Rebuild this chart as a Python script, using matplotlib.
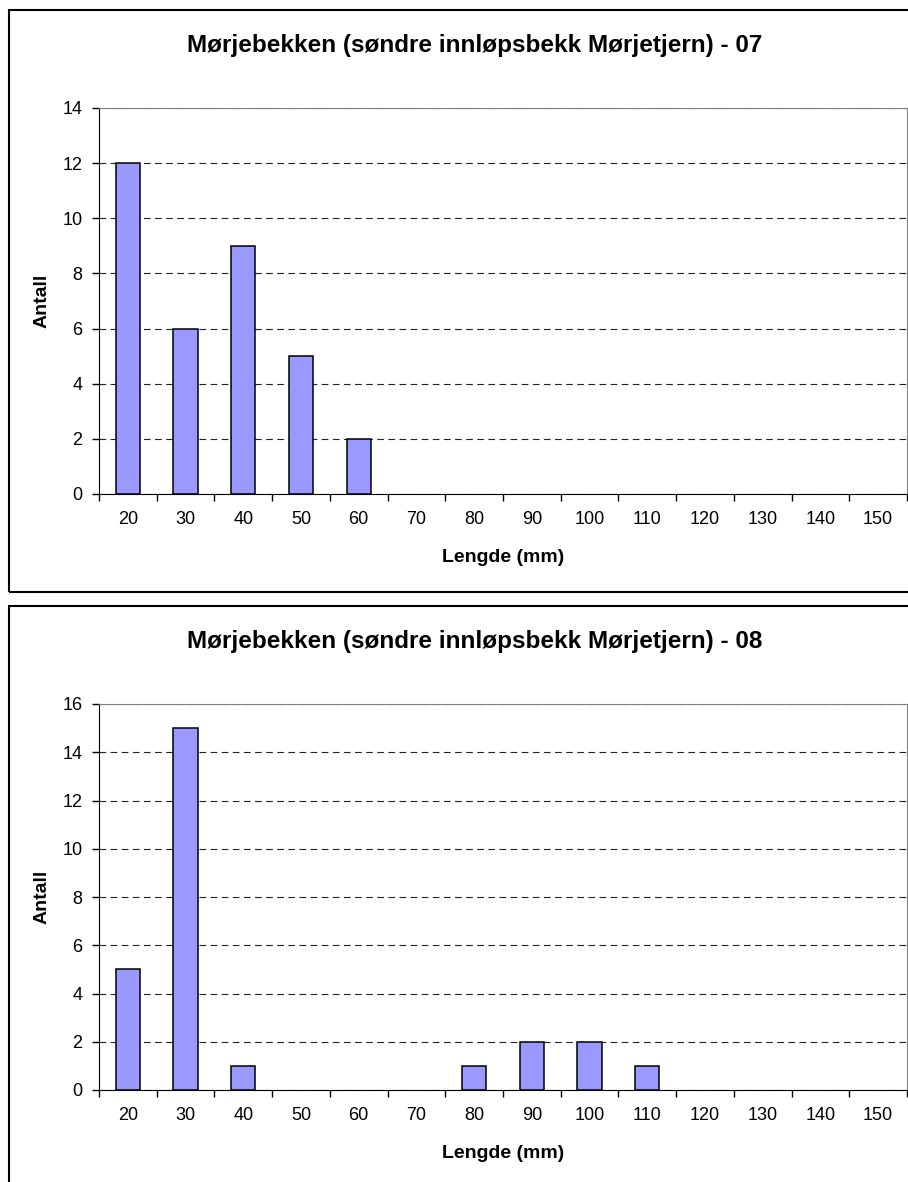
import matplotlib.pyplot as plt
from matplotlib.patches import Rectangle
import numpy as np

plt.rcParams['font.family'] = ['Liberation Sans', 'DejaVu Sans']

# Length classes (mm) and counts for each year
lengths = [20, 30, 40, 50, 60, 70, 80, 90, 100, 110, 120, 130, 140, 150]
counts_07 = [12, 6, 9, 5, 2, 0, 0, 0, 0, 0, 0, 0, 0, 0]
counts_08 = [5, 15, 1, 0, 0, 0, 1, 2, 2, 1, 0, 0, 0, 0]
titles = ['Mørjebekken (søndre innløpsbekk Mørjetjern) - 07',
          'Mørjebekken (søndre innløpsbekk Mørjetjern) - 08']
y_maxes = [14, 16]

W, H = 908, 1182
fig = plt.figure(figsize=(W / 100, H / 100), dpi=100)


def fx(px):
    return px / W


def fy(py):
    return 1 - py / H


def draw_panel(offset, counts, title, ymax):
    # outer chart frame (runs off the right side of the picture)
    fig.add_artist(Rectangle((fx(9), fy(offset + 582)), fx(960), 582 / H,
                             transform=fig.transFigure, fill=False,
                             edgecolor='black', lw=1.5, clip_on=False))

    ax = fig.add_axes([fx(99), fy(offset + 484), fx(808), 386 / H])
    x = np.arange(len(lengths))
    bars = ax.bar(x, counts, width=0.42, color='#9999ff', edgecolor='black',
                  linewidth=1.1, zorder=3)
    # empty classes show no bar at all
    for b, c in zip(bars, counts):
        if c == 0:
            b.set_visible(False)
    ax.set_xlim(-0.5, len(lengths) - 0.5)
    ax.set_ylim(0, ymax)
    ax.set_yticks(np.arange(0, ymax + 1, 2))
    ax.yaxis.grid(True, color='#222222', linestyle=(0, (6, 4)), linewidth=0.8)
    ax.set_axisbelow(True)

    ax.set_xticks(x)
    ax.set_xticklabels([str(v) for v in lengths])
    ax.set_xticks(np.arange(-0.5, len(lengths)), minor=True)
    ax.tick_params(axis='x', which='major', length=0, pad=12, labelsize=13)
    ax.tick_params(axis='x', which='minor', length=5, width=1, direction='out')
    ax.tick_params(axis='y', length=5, width=1, pad=7, labelsize=13)

    for s in ['top', 'right']:
        ax.spines[s].set_color('#808080')
    for s in ['left', 'bottom']:
        ax.spines[s].set_color('black')

    fig.text(fx(475), fy(offset + 42), title, ha='center', va='baseline',
             fontsize=17.5, fontweight='bold')
    fig.text(fx(503), fy(offset + 539), 'Lengde (mm)', ha='center', va='top',
             fontsize=14, fontweight='bold')
    fig.text(fx(42), fy(offset + 291), 'Antall', ha='center', va='center',
             rotation=90, fontsize=14, fontweight='bold')


draw_panel(10, counts_07, titles[0], y_maxes[0])
draw_panel(606, counts_08, titles[1], y_maxes[1])

fig.savefig('out.png', dpi=100)
